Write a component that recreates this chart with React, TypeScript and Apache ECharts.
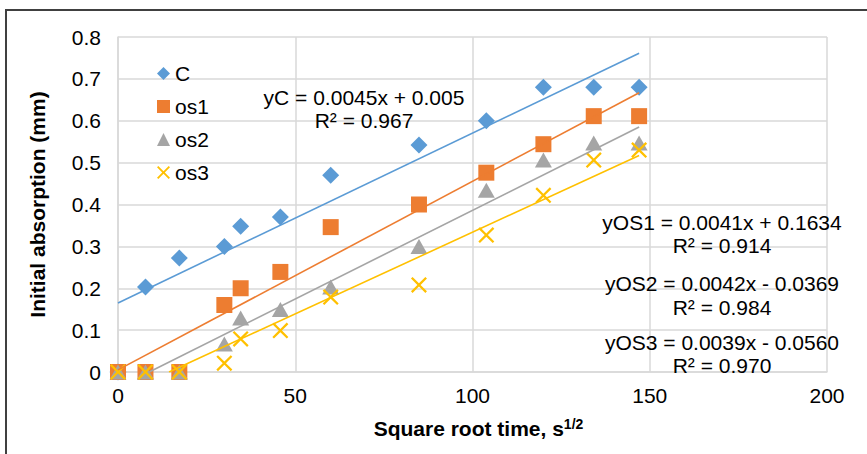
import React, { useEffect, useRef } from "react";
import * as echarts from "echarts";

const xValues = [0, 7.75, 17.3, 30, 34.6, 45.8, 60, 84.9, 103.9, 120, 134.2, 147];
const cValues = [0, 0.203, 0.272, 0.3, 0.348, 0.37, 0.47, 0.542, 0.6, 0.68, 0.68, 0.68];
const os1Values = [0, 0, 0, 0.16, 0.2, 0.239, 0.346, 0.4, 0.476, 0.544, 0.611, 0.611];
const os2Values = [0, 0, 0, 0.067, 0.129, 0.149, 0.203, 0.3, 0.434, 0.506, 0.547, 0.547];
const os3Values = [0, 0, 0, 0.021, 0.079, 0.099, 0.179, 0.208, 0.327, 0.422, 0.506, 0.53];

const trendC = [[0, 0.165], [147, 0.761]];
const trendOs1 = [[0, 0.005], [147, 0.667]];
const trendOs2 = [[8.8, 0], [147, 0.585]];
const trendOs3 = [[14.4, 0], [147, 0.517]];

const seriesNames = ["C", "os1", "os2", "os3"];
const colors = ["#5B9BD5", "#ED7D31", "#A5A5A5", "#FFC000"];

const labelC = ["yC = 0.0045x + 0.005", "R² = 0.967"];
const labelOs1 = ["yOS1 = 0.0041x + 0.1634", "R² = 0.914"];
const labelOs2 = ["yOS2 = 0.0042x - 0.0369", "R² = 0.984"];
const labelOs3 = ["yOS3 = 0.0039x - 0.0560", "R² = 0.970"];

const xTicks = { min: 0, max: 200, interval: 50 };
const yTicks = { min: 0, max: 0.8, interval: 0.1 };

const FONT = "Arial, 'Liberation Sans', sans-serif";
const crossPath =
  "path://M0,1.6L1.6,0L8,6.4L14.4,0L16,1.6L9.6,8L16,14.4L14.4,16L8,9.6L1.6,16L0,14.4L6.4,8Z";

function pairs(ys: number[]) {
  return xValues.map((x, i) => [x, ys[i]]);
}

export default function App() {
  const ref = useRef<HTMLDivElement>(null);
  useEffect(() => {
    document.body.style.margin = "0";
    const chart = echarts.init(ref.current!, null, { renderer: "svg" });
    const scatterData = [cValues, os1Values, os2Values, os3Values];
    const symbols = ["diamond", "rect", "triangle", crossPath];
    const sizes: any[] = [[17, 17], [16, 16], [17, 15], [16, 16]];
    const trends = [trendC, trendOs1, trendOs2, trendOs3];

    const textEl = (text: string, x: number, y: number) => ({
      type: "text",
      x,
      y,
      style: {
        text,
        fill: "#000",
        font: `21px ${FONT}`,
        align: "center",
        verticalAlign: "middle",
      },
      z: 100,
    });

    chart.setOption({
      animation: false,
      backgroundColor: "#fff",
      grid: { left: 118, right: 40, top: 37, bottom: 82 },
      xAxis: {
        type: "value",
        min: xTicks.min,
        max: xTicks.max,
        interval: xTicks.interval,
        axisLine: { show: true, onZero: false, lineStyle: { color: "#D9D9D9", width: 1.5 } },
        axisTick: { show: false },
        splitLine: { show: true, lineStyle: { color: "#D9D9D9", width: 1.5 } },
        axisLabel: { color: "#000", fontSize: 21, fontFamily: FONT, margin: 13 },
        name: "Square root time, s{sup|1/2}",
        nameLocation: "middle",
        nameGap: 45,
        nameTextStyle: {
          color: "#000",
          fontSize: 21,
          fontWeight: "bold",
          fontFamily: FONT,
          padding: [0, 0, 0, 12],
          rich: {
            sup: {
              fontSize: 14,
              fontWeight: "bold",
              fontFamily: FONT,
              color: "#000",
              verticalAlign: "top",
              padding: [0, 0, 8, 0],
            },
          },
        },
      },
      yAxis: {
        type: "value",
        min: yTicks.min,
        max: yTicks.max,
        interval: yTicks.interval,
        axisLine: { show: true, lineStyle: { color: "#D9D9D9", width: 1.5 } },
        axisTick: { show: false },
        splitLine: { show: true, lineStyle: { color: "#D9D9D9", width: 1.5 } },
        axisLabel: { color: "#000", fontSize: 21, fontFamily: FONT, margin: 17 },
        name: "Initial absorption (mm)",
        nameLocation: "middle",
        nameRotate: 90,
        nameGap: 70,
        nameTextStyle: { color: "#000", fontSize: 21, fontWeight: "bold", fontFamily: FONT },
      },
      legend: {
        data: seriesNames,
        orient: "vertical",
        left: 152,
        top: 58,
        itemWidth: 13,
        itemHeight: 13,
        itemGap: 12,
        textStyle: { color: "#000", fontSize: 21, fontFamily: FONT },
      },
      series: [
        ...trends.map((t, i) => ({
          name: seriesNames[i] + " trend",
          type: "line",
          data: t,
          symbol: "none",
          lineStyle: { color: colors[i], width: 1.6 },
          z: 3,
          silent: true,
        })),
        ...scatterData.map((ys, i) => ({
          name: seriesNames[i],
          type: "scatter",
          data: pairs(ys),
          symbol: symbols[i],
          symbolSize: sizes[i],
          itemStyle: { color: colors[i], opacity: 1 },
          z: 2,
        })),
      ],
      graphic: [
        textEl(labelC[0], 364, 97),
        textEl(labelC[1], 364, 120),
        textEl(labelOs1[0], 722, 222),
        textEl(labelOs1[1], 722, 245),
        textEl(labelOs2[0], 722, 283),
        textEl(labelOs2[1], 722, 307),
        textEl(labelOs3[0], 722, 342),
        textEl(labelOs3[1], 722, 365),
        {
          type: "polyline",
          shape: { points: [[6, 460], [6, 10], [870, 10]] },
          style: { stroke: "#404040", lineWidth: 2, fill: "none" },
          z: 100,
        },
      ],
    });
    return () => chart.dispose();
  }, []);
  return <div ref={ref} style={{ width: 867, height: 454 }} />;
}
